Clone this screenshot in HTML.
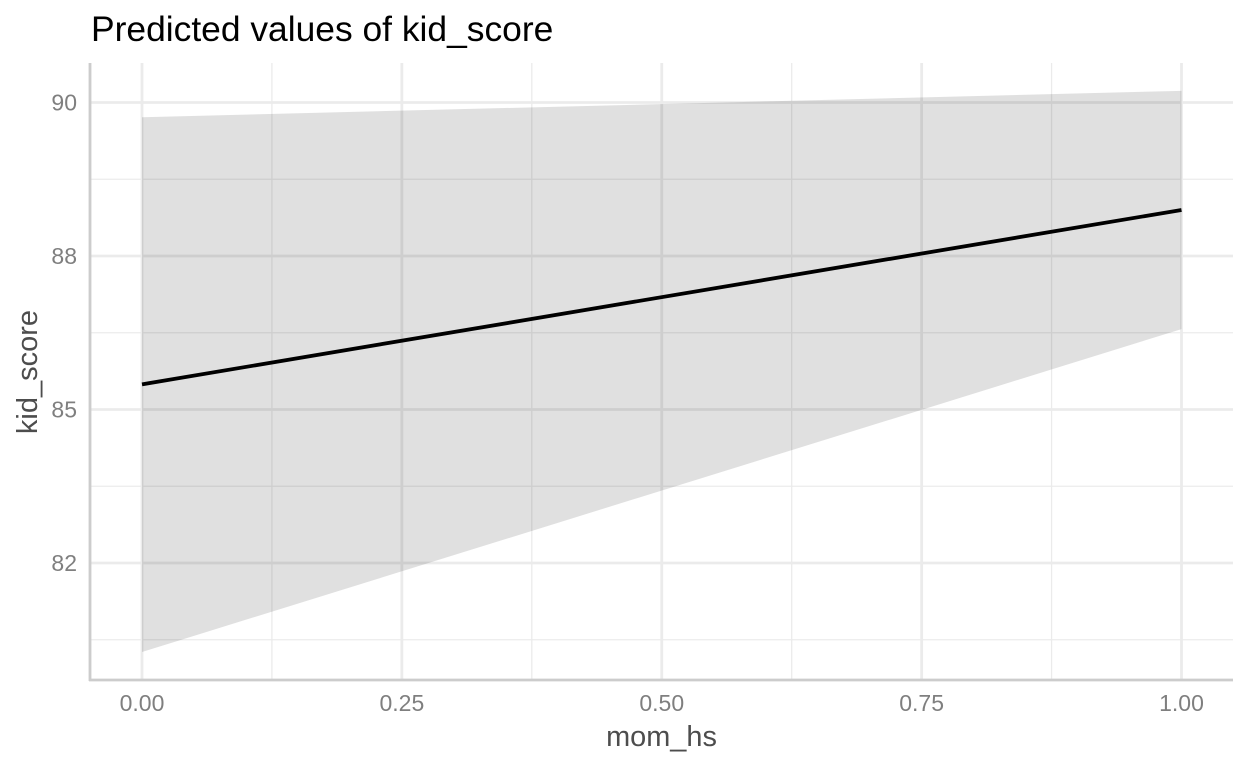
<!DOCTYPE html>
<html>
<head>
<meta charset="utf-8">
<title>Predicted values of kid_score</title>
<style>
html,body{margin:0;padding:0;background:#fff;}
body{width:1248px;height:768px;overflow:hidden;}
svg{display:block;font-family:"Liberation Sans",sans-serif;}
</style>
</head>
<body>
<svg id="chart" width="1248" height="768" viewBox="0 0 1248 768" xmlns="http://www.w3.org/2000/svg">
  <rect x="0" y="0" width="1248" height="768" fill="#ffffff"/>
  <g id="grid"></g>
  <g id="marks"></g>
  <g id="axes"></g>
  <text x="91" y="41" font-size="35.4" fill="#000000">Predicted values of kid_score</text>
  <text x="661.5" y="746" font-size="28.9" fill="#4d4d4d" text-anchor="middle">mom_hs</text>
  <text transform="translate(37 372) rotate(-90)" font-size="29" fill="#4d4d4d" text-anchor="middle">kid_score</text>
</svg>
<script>
const momHs = [0, 1];
const predicted = [85.41, 88.25];
const ciLow = [81.05, 86.31];
const ciHigh = [89.76, 90.19];
const xMajorTicks = [0, 0.25, 0.5, 0.75, 1];
const xTickLabels = ["0.00", "0.25", "0.50", "0.75", "1.00"];
const xMinorTicks = [0.125, 0.375, 0.625, 0.875];
const yMajorTicks = [82.5, 85, 87.5, 90];
const yTickLabels = ["82", "85", "88", "90"];
const yMinorTicks = [81.25, 83.75, 86.25, 88.75];

const NS = 'http://www.w3.org/2000/svg';
const panel = { left: 90, right: 1233, top: 63, bottom: 680 };
function xScale(v) { return 142 + v * 1039.5; }
function yScale(v) { return 563 - (v - 82.5) * 61.4; }

function make(tag, parent, attrs) {
  const el = document.createElementNS(NS, tag);
  for (const k in attrs) el.setAttribute(k, attrs[k]);
  parent.appendChild(el);
  return el;
}
const grid = document.getElementById('grid');
const marks = document.getElementById('marks');
const axes = document.getElementById('axes');

yMinorTicks.forEach(function (v) {
  const el = make('line', grid, { x1: panel.left, x2: panel.right, y1: yScale(v), y2: yScale(v), stroke: '#ebebeb', 'stroke-width': 1.3 });
  
  
});
xMinorTicks.forEach(function (v) {
  const el = make('line', grid, { x1: xScale(v), x2: xScale(v), y1: panel.top, y2: panel.bottom, stroke: '#ebebeb', 'stroke-width': 1.3 });
  
  
});
yMajorTicks.forEach(function (v) {
  const el = make('line', grid, { x1: panel.left, x2: panel.right, y1: yScale(v), y2: yScale(v), stroke: '#ebebeb', 'stroke-width': 2.8 });
  
  
});
xMajorTicks.forEach(function (v) {
  const el = make('line', grid, { x1: xScale(v), x2: xScale(v), y1: panel.top, y2: panel.bottom, stroke: '#ebebeb', 'stroke-width': 2.8 });
  
  
});

const upperPts = momHs.map(function (x, i) { return xScale(x) + ',' + yScale(ciHigh[i]); });
const lowerPts = momHs.map(function (x, i) { return xScale(x) + ',' + yScale(ciLow[i]); }).reverse();
const ribbon = make('polygon', marks, { points: upperPts.concat(lowerPts).join(' '), fill: '#000000', 'fill-opacity': 0.12 });



const linePts = momHs.map(function (x, i) { return xScale(x) + ',' + yScale(predicted[i]); }).join(' ');
const line = make('polyline', marks, { points: linePts, fill: 'none', stroke: '#000000', 'stroke-width': 3.8 });



const yAxis = make('line', axes, { x1: 90, x2: 90, y1: panel.top, y2: 681, stroke: '#cccccc', 'stroke-width': 2.8 });


const xAxis = make('line', axes, { x1: 89, x2: panel.right, y1: 680, y2: 680, stroke: '#cccccc', 'stroke-width': 2.8 });



xMajorTicks.forEach(function (v, i) {
  const t = make('text', axes, { x: xScale(v), y: 711, 'font-size': 23, fill: '#7f7f7f', 'text-anchor': 'middle' });
  
  
  t.textContent = xTickLabels[i];
});
yMajorTicks.forEach(function (v, i) {
  const t = make('text', axes, { x: 77, y: yScale(v) + 8, 'font-size': 23, fill: '#7f7f7f', 'text-anchor': 'end' });
  
  
  t.textContent = yTickLabels[i];
});
</script>
</body>
</html>
